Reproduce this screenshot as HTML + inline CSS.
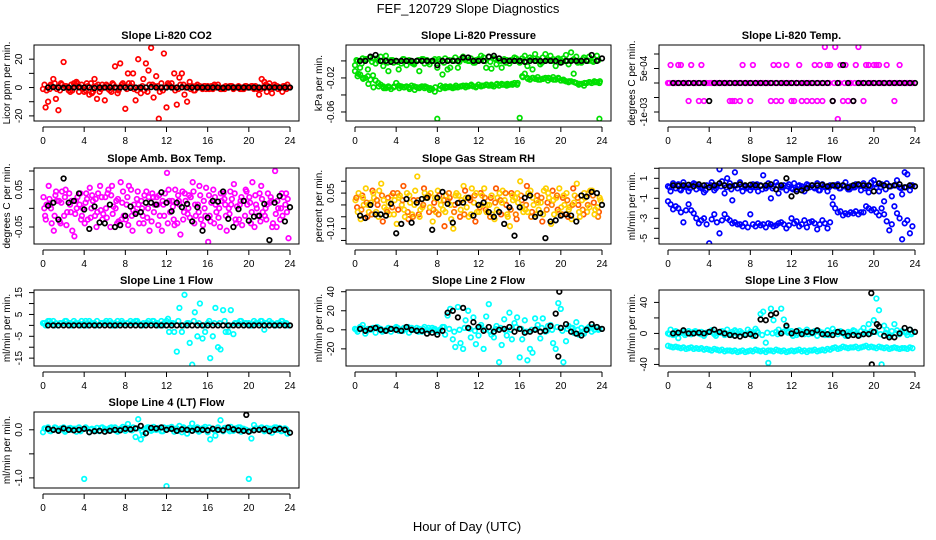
<!DOCTYPE html>
<html><head><meta charset="utf-8"><style>
body{margin:0;background:#fff;}
svg{display:block;font-family:"Liberation Sans",sans-serif;}
</style></head><body>
<svg id="chart" width="936" height="540" viewBox="0 0 936 540">
<rect x="0" y="0" width="936" height="540" fill="#fff"/>
<text x="468" y="13" text-anchor="middle" font-size="13">FEF_120729  Slope Diagnostics</text>
<text x="467" y="531" text-anchor="middle" font-size="13">Hour of Day (UTC)</text>
</svg>
<script>
const q = 0.00062;
const xTickLabels = ["0","4","8","12","16","20","24"];
const xTickHours = [0,4,8,12,16,20,24];

const co2Black = [0,0.3,0,-0.2,0,0,0.2,0,0,-0.3,0,0,0.2,0,0,0,-0.2,0,0,0,0.3,0,0,0,0,0,0.2,0,0,0,0,0,0,0,-0.2,0,0,0,0,0,0,0,0,0.2,0,0,0,0];
const co2Red = [-1,-14,-10,2, 6,-8,-16,3, 18,1,-2,2, 3,4,-3,2, -3,3,-5,-4, 6,-8,-3,2, -9,1,-2,3, 15,-4,17,3, -15,10,1,10, -9,20,-4,6, 17,12,28,-7, 8,-22,3,24, -14,2,3,10, -12,7,10,-5, -10,4,1,-2, 2,1,-1,1, 1,0,-1,1, 2,-1,0,1, 0,1,-1,0, 1,0,-1,1, 0,1,-1,0, -5,6,4,-3, 3,-4,2,1, 0,-3,1,2];
const co2Red2 = [2,-1,3,-2,1,-3,2,0,-2,3,1,-1,2,-3,0,2,-1,3,-2,1,-3,2,1,-2,3,0,-1,2,1,-2,0,1,-1,2,0,-1,1,0,-1,1,0,1,-1,2,-1,1,0,-1];
const co2Red3 = [-2,1,-1,2,0,-2,3,-1,1,-3,2,0,-1,2,-2,1,3,-1,0,-2,2,1,-3,0,1,-2,2,0,-1,1,0,-1,1,0,-1,0,1,0,-1,0,1,-1,0,1,0,-1,1,0];

const presBlack = [0,0,0.005,0.007,0,0,-0.001,0,0,0,0,0,0,0,0,-0.005,0,0,0,0,0.004,0.004,0,0,0,0.005,0.006,0.003,0,0,0,0,-0.001,0,0,0,0,0,0,-0.002,0,0,0,0,0,0.007,0,0.003];
const presGreenA = [-0.005,0,-0.008,0.003, 0.002,-0.01,0.004,0.003, -0.003,0,0.005,-0.006, 0.006,-0.012,0.001,-0.002, 0,-0.01,-0.003,0.002, -0.005,0.001,-0.002,-0.004, 0,-0.012,0.002,-0.003, 0.001,-0.004,0,0.002, -0.008,0,-0.016,0.003, -0.01,-0.008,0.001,0.004, -0.008,0.002,0.005,0.001, 0,0.003,-0.002,0.001, 0.002,0.006,0.004,-0.008, 0.005,-0.009,0.003,-0.004, 0,-0.008,0.002,0.001, -0.003,0.001,0.004,0, -0.002,0.003,0.006,-0.006, 0.004,-0.01,0.008,0.002, -0.004,0.004,0.008,0.001, 0.006,0.002,-0.006,0.003, 0.001,0.003,0.007,-0.004, 0.01,0.002,0.005,0, -0.002,0.004,0.001,0.005, 0,0.002,0.006,-0.068];
const presGreenB = [-0.012,-0.018,-0.016,-0.02, -0.02,-0.018,-0.022,-0.017, -0.023,-0.026,-0.028,-0.03, -0.032,-0.03,-0.033,-0.031, -0.026,-0.029,-0.03,-0.031, -0.03,-0.031,-0.029,-0.03, -0.031,-0.032,-0.03,-0.032, -0.031,-0.034,-0.033,-0.036, -0.068,-0.033,-0.031,-0.032, -0.031,-0.03,-0.032,-0.031, -0.031,-0.03,-0.029,-0.031, -0.03,-0.029,-0.03,-0.031, -0.028,-0.03,-0.029,-0.028, -0.029,-0.028,-0.03,-0.028, -0.029,-0.027,-0.028,-0.029, -0.028,-0.027,-0.026,-0.028, -0.067,-0.018,-0.015,-0.02, -0.022,-0.02,-0.021,-0.019, -0.022,-0.021,-0.02,-0.023, -0.021,-0.019,-0.022,-0.02, -0.023,-0.022,-0.024,-0.025, -0.024,-0.015,-0.026,-0.028, -0.027,-0.029,-0.026,-0.025, -0.026,-0.024,-0.025,-0.026];
const presGreenC = [0.001,-0.003,0.002,-0.001,0.003,0,-0.002,0.001,-0.001,0.002,0,-0.003,0.001,0.002,-0.001,0,0.002,-0.002,0.001,0,-0.001,0.003,0,-0.002,0.001,0,-0.001,0.002,0,-0.002,0.001,0.003,0,-0.001,0.002,0,-0.002,0.001,0,0.002,-0.001,0,0.001,-0.002,0.002,0,-0.001,0.001];
const presGreenD = [-0.015,-0.021,-0.027,-0.031,-0.03,-0.032,-0.031,-0.03,-0.032,-0.031,-0.033,-0.034,-0.031,-0.03,-0.032,-0.031,-0.029,-0.03,-0.031,-0.029,-0.03,-0.029,-0.028,-0.03,-0.029,-0.028,-0.029,-0.027,-0.028,-0.027,-0.028,-0.026,-0.019,-0.021,-0.02,-0.022,-0.021,-0.02,-0.022,-0.021,-0.023,-0.024,-0.025,-0.027,-0.026,-0.025,-0.025,-0.024];

const tempBlack = [0,0,0,0,0,0,0,-q,0,0,0,0,0,0,0,0,0,0,0,0,0,0,0,0,0,0,0,0,0,0,0,-q,0,q,0,-q,0,0,0,0,0,0,0,0,0,0,0,0];
const tempMagenta = [0,q,0,0, q,q,0,0, -q,q,0,0, -q,q,-q,0, 0,0,0,0, 0,0,0,0, -q,-q,-q,0, -q,q,0,0, -q,q,0,0, 0,0,0,0, -q,q,-q,q, -q,0,q,0, -q,-q,0,q, -q,0,-q,0, -q,q,-q,q, -q,2*q,q,q, -q,2*q,-2*q,q, -q,q,-q,0, -q,q,2*q,0, -q,q,q,0, q,q,q,0, 0,q,0,0, -q,0,q,0, 0,0,0,0];
const tempMagenta2 = [0,0,0,0,0,0,0,0,0,0,0,0,0,0,0,0,0,0,0,0,0,0,0,0,0,0,0,0,0,0,0,0,0,0,0,0,0,0,0,0,0,0,0,0,0,0,0,0];

const ambBlack = [0.007,0.015,-0.03,0.08,0.015,0.02,0.04,-0.003,-0.055,0.005,-0.038,-0.04,0.01,-0.05,-0.045,-0.02,0.005,-0.015,-0.01,0.015,0.015,0.01,0.043,0.015,-0.008,0.015,0.003,0.012,-0.035,0.003,-0.06,-0.025,0.02,0.018,0.045,-0.028,-0.05,-0.002,0.02,-0.033,-0.022,-0.02,0.012,-0.085,0.015,0.033,-0.035,0.003];
const ambMagentaA = [0.03,0.06,-0.06,0.02,-0.02,0.04,-0.075,0.01,-0.04,0.055,-0.02,0.06,0.03,-0.05,0.0,0.07,-0.03,0.05,-0.01,0.02,0.045,-0.035,0.03,-0.06,0.095,0.02,-0.04,0.045,-0.015,0.07,0.01,-0.045,-0.09,0.05,-0.025,0.04,0.0,0.065,-0.03,0.02,0.03,-0.05,0.04,-0.02,0.015,0.1,-0.03,0.01];
const ambMagentaB = [-0.02,0.01,0.035,-0.04,0.05,-0.01,0.02,-0.03,0.04,0.0,-0.05,0.03,-0.025,0.06,-0.04,0.015,0.03,-0.06,0.045,-0.02,0.0,0.03,-0.045,0.01,0.05,-0.03,0.02,-0.01,0.035,-0.04,0.06,0.0,-0.02,0.03,-0.05,0.01,0.045,-0.03,0.02,0.05,-0.04,0.01,0.06,-0.03,0.02,-0.05,0.04,-0.01];
const ambMagentaC = [0.01,-0.04,0.02,0.045,-0.01,-0.06,0.03,0.0,-0.03,0.02,0.04,-0.015,0.05,0.005,-0.035,-0.02,0.06,0.01,-0.04,0.035,-0.06,0.01,-0.02,0.04,-0.01,0.05,-0.07,0.02,0.03,-0.02,-0.03,0.055,0.015,-0.01,0.02,-0.06,0.025,0.005,-0.045,0.01,0.07,-0.02,-0.01,0.04,-0.04,0.0,0.03,-0.08];
const ambMagentaD = [0.0,0.025,-0.02,-0.035,0.03,0.01,-0.015,0.04,0.015,-0.025,0.025,-0.005,0.0,0.035,0.02,-0.03,0.01,-0.02,0.025,0.0,-0.025,0.04,0.01,0.02,-0.04,0.005,0.035,-0.03,0.0,0.045,-0.01,0.02,0.035,-0.04,0.0,0.025,-0.015,0.04,0.01,-0.02,0.015,0.035,-0.035,0.0,0.03,-0.015,0.0,0.04];
const ambMagentaE = [-0.03,0.0,0.045,0.015,-0.045,0.02,0.0,-0.02,0.025,0.035,-0.01,-0.03,0.04,-0.015,0.025,0.045,-0.045,-0.005,0.01,-0.04,0.03,-0.01,0.035,-0.02,0.02,-0.045,0.01,0.04,-0.025,0.01,0.035,-0.02,-0.035,0.01,0.04,-0.02,0.01,-0.04,0.03,0.045,-0.01,0.0,0.025,0.01,-0.05,0.02,-0.02,0.025];

const rhBlack = [-0.045,-0.055,0.0,-0.04,-0.04,-0.045,0.005,-0.12,-0.08,0.025,-0.075,0.01,0.025,0.03,-0.105,0.03,0.055,0.005,-0.075,0.008,0.01,0.03,-0.045,0.0,0.01,-0.03,-0.05,-0.03,-0.08,-0.01,-0.13,-0.01,0.03,0.04,-0.05,-0.035,-0.14,-0.07,-0.065,-0.045,-0.04,-0.045,-0.07,0.04,0.035,0.055,0.05,0.0];
const rhYellowA = [0.02,-0.06,0.07,0.01,-0.03,0.09,-0.02,0.04,-0.08,0.0,0.05,-0.04,0.12,-0.01,0.03,-0.07,0.06,-0.02,0.02,-0.1,0.04,0.08,-0.05,0.01,-0.03,0.07,0.0,-0.06,0.05,0.02,-0.09,0.03,0.1,-0.02,0.06,-0.04,0.01,0.07,-0.08,0.03,-0.01,0.05,-0.06,0.09,0.02,-0.03,0.06,-0.01];
const rhOrangeB = [-0.01,0.04,-0.05,0.06,0.0,-0.07,0.03,0.05,-0.02,0.08,-0.06,0.02,-0.04,0.07,-0.03,0.01,0.04,-0.09,0.03,0.0,-0.05,0.06,0.02,-0.07,0.05,-0.02,0.03,0.07,-0.04,0.0,0.05,-0.06,0.02,0.08,-0.03,0.04,-0.07,0.01,0.06,-0.02,0.03,-0.05,0.07,0.0,-0.04,0.05,0.01,-0.03];
const rhYellowC = [0.05,0.0,-0.03,0.03,0.06,-0.01,-0.04,0.02,0.04,-0.05,0.01,0.06,-0.02,0.03,0.05,-0.03,0.0,0.04,-0.06,0.05,0.02,-0.01,0.07,-0.03,0.04,0.0,-0.04,0.03,0.06,-0.05,0.02,0.01,-0.03,0.05,0.0,-0.02,0.06,0.03,-0.04,0.07,0.0,-0.01,0.04,-0.05,0.03,0.06,-0.02,0.02];
const rhOrangeD = [0.03,-0.02,0.01,-0.04,0.02,0.04,-0.03,-0.01,0.05,0.02,-0.03,-0.05,0.02,0.0,0.04,-0.02,-0.04,0.02,0.05,-0.03,0.01,-0.04,0.03,0.04,-0.01,0.03,-0.05,0.01,0.02,0.05,-0.02,-0.04,0.04,0.0,-0.05,0.02,0.03,-0.02,0.0,0.04,-0.04,0.02,0.0,0.03,-0.02,0.0,0.04,-0.05];
const rhYellowE = [-0.03,0.03,0.0,0.05,-0.05,0.02,0.01,-0.04,0.03,-0.02,0.04,0.0,-0.05,0.05,-0.01,0.03,0.02,-0.03,0.0,0.04,-0.02,0.03,-0.04,0.05,0.0,-0.03,0.04,-0.02,0.01,-0.04,0.04,0.05,-0.01,-0.03,0.03,0.01,-0.04,0.05,0.02,-0.03,0.04,-0.02,0.01,-0.03,0.05,-0.01,-0.04,0.03];

const flowBlack = [0.3,0.25,0.3,0.35,0.2,0.4,0.3,0.1,0.3,0.5,0.3,0.2,0.3,0.4,0.3,0.35,0.3,0.25,0.3,0.4,-0.1,0.3,1.0,-0.8,-0.3,-0.2,0.0,0.3,0.3,0.35,0.2,0.3,0.25,0.3,0.1,0.3,0.4,0.3,0.3,-0.3,0.5,0.3,0.2,0.3,0.4,0.1,0.3,0.2];
const flowBlueA = [0.2,-0.3,0.5,0.0, 0.4,-0.2,0.6,0.1, -0.3,0.3,0.5,-0.1, 0.2,0.0,-0.4,0.3, 0.1,0.6,-0.2,0.3, 1.9,0.7,-0.5,1.0, 0.5,-1.2,1.6,0.0, 0.6,-0.3,0.2,0.1, -0.2,0.4,0.1,-0.3, 0.3,1.3,0.0,0.5, -1.0,0.2,0.6,-0.5, 0.1,0.3,-0.2,0.4, 0.0,0.5,-0.1,0.3, 0.2,-0.3,0.4,0.1, 0.3,0.0,0.5,-0.2, 0.4,0.1,-0.3,0.3, -0.9,0.2,0.4,0.0, 0.3,0.6,-0.1,0.2, 0.1,0.4,0.3,-0.2, 0.5,0.2,-0.4,0.6, 0.8,0.1,-0.3,0.4, -1.3,0.5,0.2,-0.8, 0.3,0.8,0.1,-0.6, 1.6,1.4,-0.2,0.3];
const flowBlueB = [-1.3,-1.6,-2.1,-1.8, -2.0,-2.4,-3.4,-2.2, -1.6,-2.2,-2.5,-3.0, -3.5,-3.2,-3.0,-3.6, -5.5,-3.1,-2.6,-3.4, -4.5,-3.2,-2.6,-3.0, -3.2,-3.5,-3.4,-3.6, -3.6,-3.8,-3.5,-3.9, -2.6,-3.6,-3.8,-3.5, -3.7,-3.6,-3.9,-3.5, -3.6,-3.8,-3.7,-3.5, -3.4,-3.6,-4.0,-3.7, -3.0,-3.5,-3.3,-3.8, -3.6,-3.2,-3.9,-3.4, -3.3,-3.5,-4.1,-3.6, -3.2,-3.5,-4.0,-3.4, -1.6,-2.0,-2.4,-2.3, -2.7,-2.5,-2.6,-2.4, -2.5,-2.3,-2.6,-2.4, -2.4,-1.8,-2.0,-2.2, -2.1,-2.4,-2.7,-2.0, -2.6,-3.3,-4.2,-3.6, -1.8,-2.5,-3.0,-5.1, -3.5,-3.2,-4.5,-3.8];
const flowBlueC = [0.1,0.3,-0.1,0.2,0.0,0.4,0.1,-0.2,0.3,0.0,0.2,0.1,-0.1,0.3,0.2,0.0,0.1,0.4,-0.1,0.2,0.0,0.3,0.1,0.2,-0.1,0.2,0.0,0.3,0.1,-0.2,0.2,0.1,0.3,0.0,0.2,-0.1,0.1,0.3,0.0,0.2,0.4,0.1,-0.1,0.2,0.3,0.0,0.1,0.2];

const line1Black = [0,0,0,0,0,0,0,0,0,0,0,0,0,0,0,0,0,0,0,0,0,0,0,0,0,0,0,0,0,0,0,0,0,0,0,0,0,0,0,0,0,0,0,0,0,0,0,0];
const line1Cyan = [1,0,2,1, 2,1,0,1, 1,2,1,0, 2,1,1,2, 1,0,2,1, 1,2,0,1, 1,1,2,0, 1,2,1,1, 0,1,2,1, 2,1,0,1, 1,2,1,2, 1,0,2,1, 2,-3,1,-3, -12,8,-3,14, 1,-8,-18,6, -5,10,-6,-3, 1,-15,-5,8, -10,-11,7,-3, -3,7,-4,1, 1,2,0,1, 1,0,2,1, 1,2,-2,1, 2,1,0,1, 1,2,1,0];
const line1Cyan2 = [1,2,0,1,2,1,1,0,2,1,0,1,2,1,0,2,1,1,2,0,1,2,1,0,3,1,2,0,1,2,1,0,2,1,1,2,0,1,2,1,0,1,2,1,1,0,2,1];

const line2Black = [1,-1,1,2,0,-1,1,0,-1,3,0,-1,-1,-4,-3,-5,-1,18,20,13,23,2,8,3,-1,3,-2,0,1,3,-2,1,-3,-2,0,-2,-1,4,17,2,6,-2,-4,-6,0,6,3,1];
const line2BlackExtraHours = [19.75,19.85];
const line2BlackExtra = [-28,40];
const line2Cyan = [1,-2,3,5, -4,1,0,2, -3,2,1,-1, 0,2,-2,1, 3,-1,0,2, 1,-3,2,0, 2,1,-2,3, 0,-1,2,1, -2,0,3,-5, 15,22,-10,-18, 24,-14,-20,10, 20,-8,13,-15, -6,5,-20,14, 27,-5,-8,4, -34,-16,11,-6, 18,-10,7,13, -29,-10,10,-32, -20,-24,12,5, -9,12,-2,4, 5,-14,-20,28, 22,-34,-12,4, 2,-3,8,-5, 2,-4,1,3, -2,0,3,1];
const line2Cyan2 = [0,2,-1,1,3,-2,0,1,2,-1,3,0,-2,1,2,0,-1,3,1,-2,0,2,1,-1,3,0,-2,1,2,-1,0,3,1,-2,0,1,2,-1,0,3,-1,1,2,0,-2,1,3,0];

const line3Black = [0,1,4,0,0,1,0,2,5,2,0,-2,-3,-4,-2,-1,-3,18,17,24,26,0,10,0,3,-1,2,1,4,-1,-1,-2,2,1,-3,-2,-3,-1,-1,2,9,-3,-5,-5,0,7,5,2];
const line3BlackExtraHours = [19.75,19.8,20.3];
const line3BlackExtra = [52,-40,12];
const line3CyanA = [0,5,-2,3, -6,1,2,0, 3,-1,2,1, 0,2,-3,1, 2,4,-1,0, 1,3,-2,5, 0,2,4,-1, 3,0,-2,5, 2,-3,6,1, 25,28,-12,-38, 32,17,2,5, 32,18,8,2, 3,0,-2,4, 1,-1,5,2, 0,3,-3,2, 1,-2,4,0, 6,2,-1,3, 0,-3,2,1, 4,0,-2,3, 7,1,12,3, 17,45,30,-40, 10,5,-2,3, 12,4,-1,3, 2,-2,5,1];
const line3CyanB = [-16,-17,-18,-17, -18,-19,-18,-20, -19,-18,-20,-19, -20,-19,-21,-20, -21,-22,-20,-21, -22,-21,-23,-22, -22,-23,-22,-24, -23,-22,-24,-23, -22,-23,-21,-22, -23,-22,-24,-22, -22,-23,-21,-22, -23,-22,-24,-23, -22,-23,-22,-21, -23,-22,-24,-22, -22,-21,-23,-22, -21,-22,-20,-21, -19,-18,-20,-19, -17,-18,-19,-18, -18,-17,-19,-18, -17,-16,-18,-17, -18,-19,-17,-18, -19,-18,-20,-19, -18,-19,-20,-19, -19,-20,-18,-19];
const line3CyanC = [-1,2,0,-2,1,3,-1,0,2,-3,1,0,-2,2,1,-1,0,3,-2,1,0,-1,2,1,-3,0,2,-1,1,3,0,-2,1,2,-1,0,3,-2,1,0,2,-1,1,-3,0,2,1,-1];

const line4Black = [0.02,0.0,-0.02,0.03,0.0,-0.01,0.0,0.02,-0.05,-0.03,-0.02,-0.04,-0.02,0.0,-0.01,0.02,0.01,0.03,0.08,-0.07,0.04,0.03,0.05,0.0,0.02,-0.02,0.01,0.0,-0.02,0.01,0.0,-0.01,0.02,0.0,-0.01,0.05,0.01,-0.01,-0.02,-0.04,-0.01,0.0,0.01,-0.03,0.0,0.02,0.0,-0.06];
const line4BlackExtraHours = [19.75];
const line4BlackExtra = [0.31];
const line4Cyan = [-0.05,0.02,0.05,-0.03, 0.0,0.04,-0.02,0.03, 0.05,-0.01,0.03,0.0, 0.02,-0.04,0.05,0.01, -1.02,0.03,-0.05,0.02, 0.0,0.04,-0.03,0.05, 0.02,-0.01,0.04,0.0, 0.05,-0.04,0.02,0.06, -0.02,0.12,0.0,0.05, -0.15,0.22,-0.2,-0.1, 0.03,0.05,-0.02,0.06, 0.0,0.04,-0.03,0.05, -1.17,0.02,0.06,-0.04, 0.03,0.08,-0.05,0.01, -0.08,0.04,0.13,0.0, 0.05,-0.02,0.03,0.06, -0.05,-0.2,0.02,-0.12, 0.05,0.2,-0.03,0.04, 0.0,0.06,-0.02,0.03, 0.05,-0.04,0.02,0.0, -1.02,-0.18,0.1,0.03, 0.0,0.05,-0.03,0.04, 0.02,-0.06,0.05,0.0, 0.04,-0.02,0.03,-0.08];
const line4Cyan2 = [0.03,-0.02,0.05,0.0,-0.04,0.04,0.02,-0.03,0.05,0.01,-0.02,0.04,0.0,0.05,-0.03,0.02,0.04,-0.01,0.03,-0.04,0.05,0.0,0.02,-0.03,0.04,0.01,-0.02,0.05,0.0,0.03,-0.04,0.02,0.05,-0.01,0.0,0.04,-0.03,0.02,0.05,0.0,-0.02,0.03,0.04,-0.01,0.02,0.05,-0.03,0.01];

const NS = "http://www.w3.org/2000/svg";
const svg = document.getElementById("chart");
function mk(tag, attrs, parent) {
  const el = document.createElementNS(NS, tag);
  for (const k in attrs) el.setAttribute(k, attrs[k]);
  (parent || svg).appendChild(el);
  return el;
}
const BW = 265, BH = 76;
const panels = [
  {key:"co2", title:"Slope Li-820 CO2", ylab:"Licor ppm per min.", bx:34, by:45, top:30, bot:-23.6, ticks:[20,10,0,-10,-20], labels:["20","","0","","-20"],
   series:[[co2Red,"#ff0000",0],[co2Red2,"#ff0000",0.3],[co2Red3,"#ff0000",0.7],[co2Black,"#000000",1]]},
  {key:"pressure", title:"Slope Li-820 Pressure", ylab:"kPa per min.", bx:346, by:45, top:0.0187, bot:-0.0706, ticks:[0,-0.02,-0.04,-0.06], labels:["","-0.02","","-0.06"],
   series:[[presGreenB,"#00e000",0],[presGreenD,"#00e000",0.6],[presGreenA,"#00e000",0],[presGreenC,"#00e000",0.3],[presBlack,"#000000",1]]},
  {key:"temp", title:"Slope Li-820 Temp.", ylab:"degrees C per min.", bx:659, by:45, top:0.00131, bot:-0.00131, ticks:[0.001,0.0005,0,-0.0005,-0.001], labels:["","5e-04","","","-1e-03"],
   series:[[tempMagenta,"#ff00ff",0],[tempMagenta2,"#ff00ff",0.3],[tempBlack,"#000000",1]]},
  {key:"amb", title:"Slope Amb. Box Temp.", ylab:"degrees C per min.", bx:34, by:168, top:0.108, bot:-0.0955, ticks:[0.1,0.05,0,-0.05], labels:["","0.05","","-0.05"],
   series:[[ambMagentaA,"#ff00ff",0.1],[ambMagentaB,"#ff00ff",0.4],[ambMagentaC,"#ff00ff",0.7],[ambMagentaD,"#ff00ff",0.25],[ambMagentaE,"#ff00ff",0.55],[ambBlack,"#000000",1]]},
  {key:"rh", title:"Slope Gas Stream RH", ylab:"percent per min.", bx:346, by:168, top:0.156, bot:-0.165, ticks:[0.1,0.05,0,-0.05,-0.1,-0.15], labels:["","0.05","","","-0.10",""],
   series:[[rhYellowA,"#ffd000",0.1],[rhOrangeB,"#ff5a00",0.4],[rhYellowC,"#ffd000",0.7],[rhOrangeD,"#ff7a00",0.25],[rhYellowE,"#ffd000",0.55],[rhBlack,"#000000",1]]},
  {key:"sample-flow", title:"Slope Sample Flow", ylab:"ml/min per min.", bx:659, by:168, top:2.03, bot:-5.57, ticks:[2,1,0,-1,-2,-3,-4,-5], labels:["","1","","-1","","-3","","-5"],
   series:[[flowBlueB,"#0000ff",0],[flowBlueA,"#0000ff",0],[flowBlueC,"#0000ff",0.3],[flowBlack,"#000000",1]]},
  {key:"line1", title:"Slope Line 1 Flow", ylab:"ml/min per min.", bx:34, by:290, top:16.2, bot:-18.6, ticks:[15,10,5,0,-5,-10,-15], labels:["15","","5","","-5","","-15"],
   series:[[line1Cyan,"#00ffff",0],[line1Cyan2,"#00ffff",0.3],[line1Black,"#000000",1]]},
  {key:"line2", title:"Slope Line 2 Flow", ylab:"ml/min per min.", bx:346, by:290, top:41.8, bot:-38, ticks:[40,20,0,-20], labels:["40","20","0","-20"],
   series:[[line2Cyan,"#00ffff",0],[line2Cyan2,"#00ffff",0.3],[line2Black,"#000000",1]],
   extra:[line2BlackExtraHours,line2BlackExtra]},
  {key:"line3", title:"Slope Line 3 Flow", ylab:"ml/min per min.", bx:659, by:290, top:56, bot:-42, ticks:[40,20,0,-20,-40], labels:["40","","0","","-40"],
   series:[[line3CyanB,"#00ffff",0],[line3CyanA,"#00ffff",0],[line3CyanC,"#00ffff",0.3],[line3Black,"#000000",1]],
   extra:[line3BlackExtraHours,line3BlackExtra]},
  {key:"line4", title:"Slope Line 4 (LT) Flow", ylab:"ml/min per min.", bx:34, by:412, top:0.37, bot:-1.21, ticks:[0,-0.5,-1], labels:["0.0","","-1.0"],
   series:[[line4Cyan,"#00ffff",0],[line4Cyan2,"#00ffff",0.3],[line4Black,"#000000",1]],
   extra:[line4BlackExtraHours,line4BlackExtra]}
];

panels.forEach(p => {
  const g = mk("g", {});
  
  
  const xs = h => p.bx + 9 + h * 247 / 24;
  const ys = v => p.by + (p.top - v) / (p.top - p.bot) * BH;
  const clip = mk("clipPath", {id: "clip-" + p.key}, g);
  mk("rect", {x:p.bx, y:p.by, width:BW, height:BH}, clip);
  const pts = mk("g", {"clip-path": "url(#clip-" + p.key + ")"}, g);
  
  
  const drawPt = (h, v, color, name) => {
    const c = mk("circle", {cx: xs(h).toFixed(1), cy: ys(v).toFixed(1), r: 2.3, fill: "none", stroke: color, "stroke-width": 1.7}, pts);
    
    
  };
  p.series.forEach(([vals, color, off]) => {
    const n = vals.length;
    vals.forEach((v, i) => {
      const h = (off === 1) ? (i + 1) * 24 / n : (i + off) * 24 / n;
      drawPt(h, v, color, color === "#000000" ? "black-point" : "data-point");
    });
  });
  if (p.extra) {
    p.extra[1].forEach((v, i) => drawPt(p.extra[0][i], v, "#000000", "black-point"));
  }
  const box = mk("rect", {x:p.bx, y:p.by, width:BW, height:BH, fill:"none", stroke:"#000", "stroke-width":1}, g);
  
  
  const t = mk("text", {x: p.bx + BW / 2, y: p.by - 6, "text-anchor": "middle", "font-size": 11, "font-weight": "bold"}, g);
  t.textContent = p.title;
  
  
  const axY = p.by + BH + 6;
  mk("line", {x1: xs(0), x2: xs(24), y1: axY, y2: axY, stroke: "#000"}, g);
  xTickHours.forEach((h, i) => {
    mk("line", {x1: xs(h), x2: xs(h), y1: axY, y2: axY + 5, stroke: "#000"}, g);
    const tl = mk("text", {x: xs(h), y: axY + 17, "text-anchor": "middle", "font-size": 10}, g);
    tl.textContent = xTickLabels[i];
    
    
  });
  p.ticks.forEach((v, i) => {
    const y = ys(v);
    mk("line", {x1: p.bx - 5, x2: p.bx, y1: y, y2: y, stroke: "#000"}, g);
    if (p.labels[i]) {
      const yl = mk("text", {x: p.bx - 12, y: y, "text-anchor": "middle", "font-size": 10, transform: "rotate(-90 " + (p.bx - 12) + " " + y + ")"}, g);
      yl.textContent = p.labels[i];
      
      
    }
  });
  const cy = p.by + BH / 2;
  const yt = mk("text", {x: p.bx - 24, y: cy, "text-anchor": "middle", "font-size": 10, transform: "rotate(-90 " + (p.bx - 24) + " " + cy + ")"}, g);
  yt.textContent = p.ylab;
  
  
});
</script>
</body></html>
